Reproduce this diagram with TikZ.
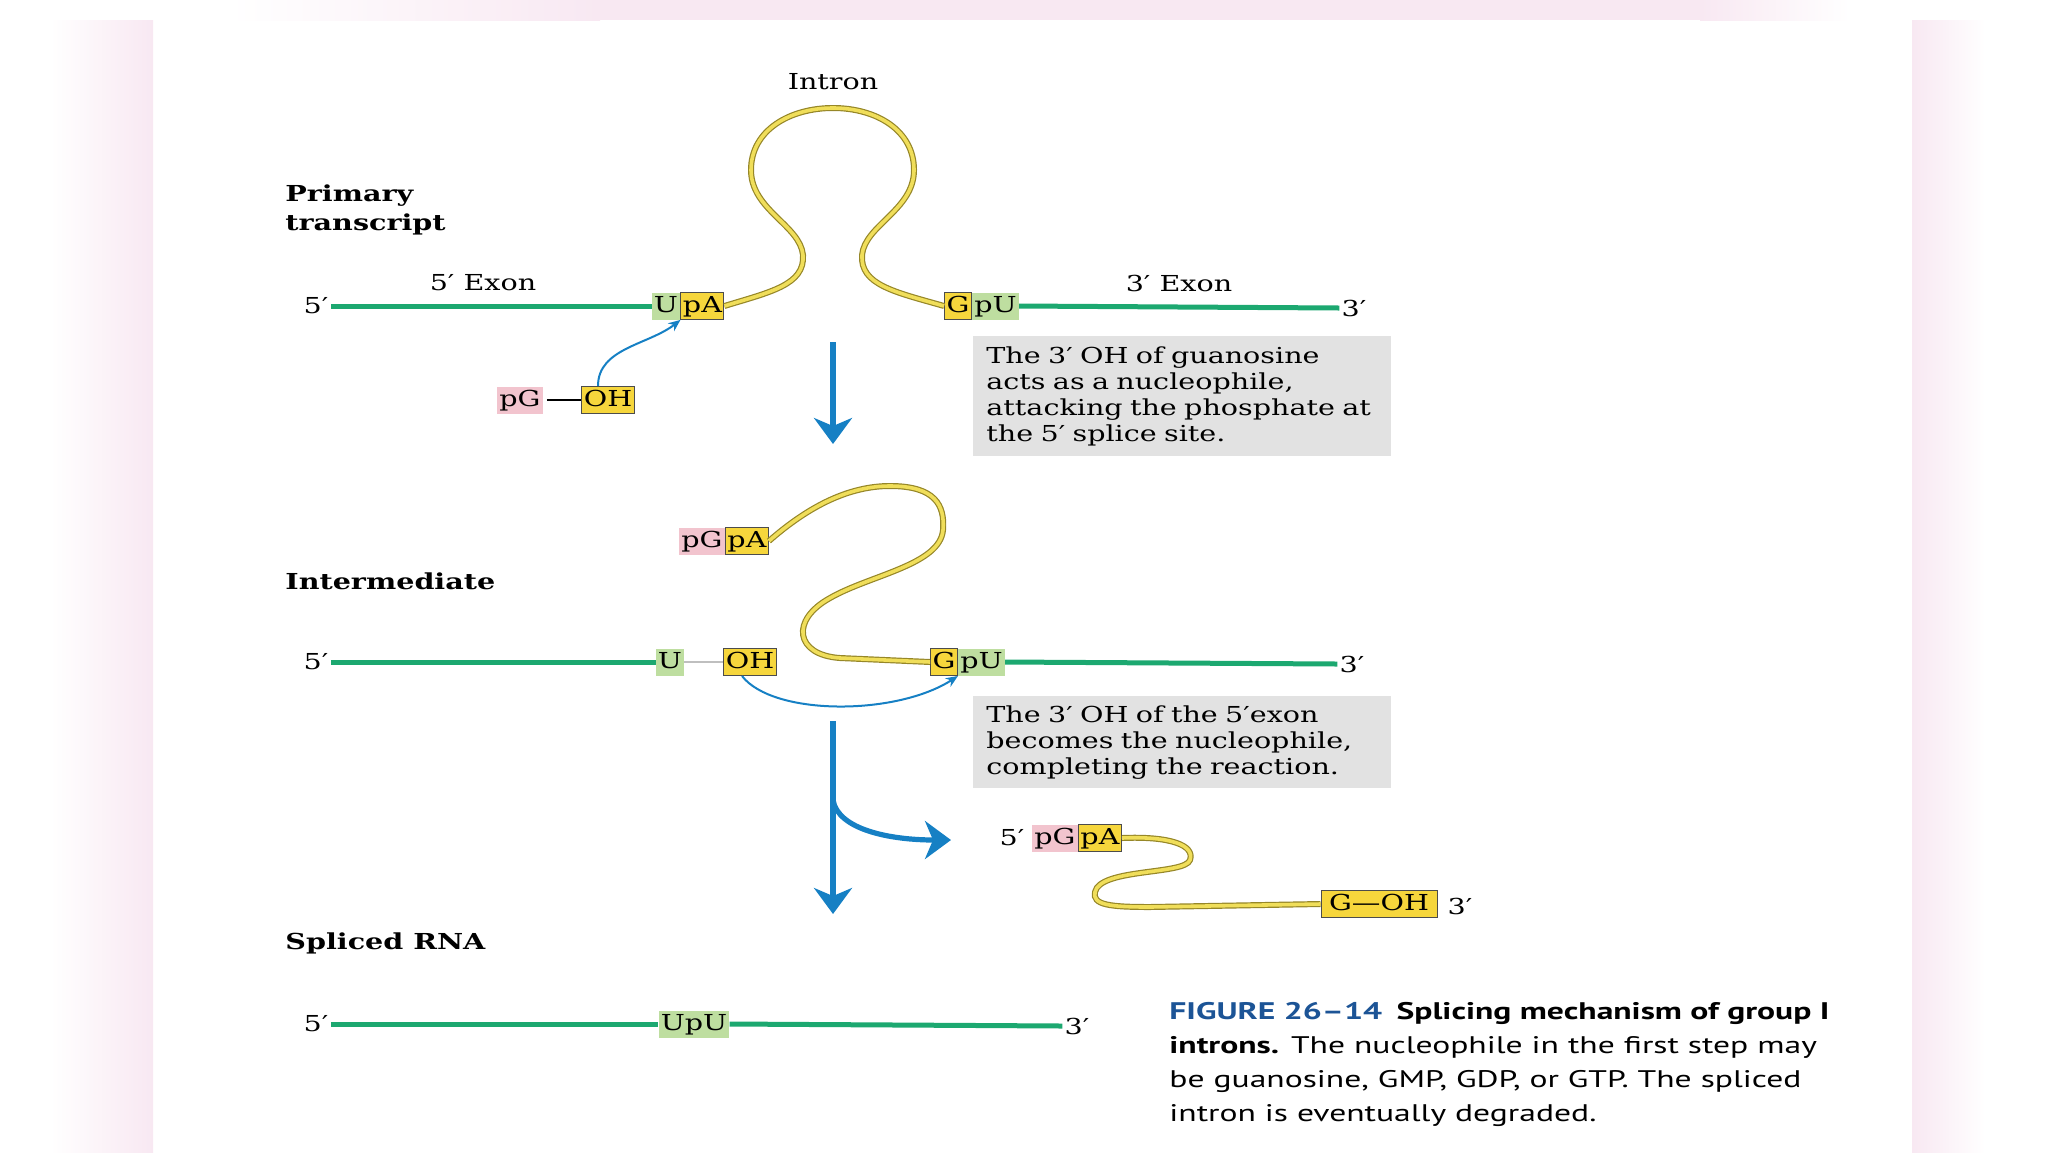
\documentclass[tikz,border=0pt]{standalone}
\usepackage{fontspec}
\setmainfont{DejaVu Serif}[FakeStretch=1.3]
\newfontfamily\capfont{PT Sans}[FakeStretch=1.4]
\usetikzlibrary{positioning,arrows.meta}

\definecolor{exongreen}{RGB}{28,168,112}
\definecolor{intronfill}{RGB}{240,222,90}
\definecolor{intronedge}{RGB}{150,135,40}
\definecolor{ntyellow}{RGB}{246,214,60}
\definecolor{ntgreen}{RGB}{190,222,160}
\definecolor{ntpink}{RGB}{242,196,206}
\definecolor{arrowblue}{RGB}{22,128,196}
\definecolor{notegray}{RGB}{226,226,226}
\definecolor{capblue}{RGB}{28,84,150}
\definecolor{bandpink}{RGB}{248,232,242}

\begin{document}
\begin{tikzpicture}[
            x=0.5pt,
            y=-0.5pt,
            font=\fontsize{11}{13}\selectfont,
            exon/.style={draw=exongreen, line width=2.5pt},
            intron/.style={draw=intronedge, line width=0.6pt, double=intronfill, double distance=1.8pt},
            nt/.style={inner xsep=1pt, inner ysep=1.25pt, text height=8.5pt, text depth=2.5pt},
            ntG/.style={nt, fill=ntgreen},
            ntY/.style={nt, fill=ntyellow, draw=black!70, line width=0.5pt},
            ntP/.style={nt, fill=ntpink},
            primelbl/.style={inner sep=1pt},
            steplbl/.style={font=\bfseries\fontsize{11}{14.5}\selectfont, align=left, anchor=west, inner sep=0pt},
            notebox/.style={fill=notegray, anchor=north west, align=left, text width=196pt, inner xsep=6.5pt, inner ysep=0pt},
            bigarrow/.style={draw=arrowblue, line width=2.6pt, -{Stealth[length=13pt,width=19pt,inset=4pt]}},
            attack/.style={draw=arrowblue, line width=1pt, -{Stealth[length=6pt,width=5pt]}},
            broken/.style={draw=black!25, line width=0.8pt}
        ]
        \useasboundingbox (0,0) rectangle (2048,1152);
        \shade[left color=white, right color=bandpink] (50,20) rectangle (153,1152);
        \shade[left color=bandpink, right color=white] (1912,20) rectangle (1985,1152);
        \shade[left color=white, right color=bandpink] (230,0) rectangle (600,20);
        \fill[bandpink] (600,0) rectangle (1700,20);
        \shade[left color=bandpink, right color=white] (1700,0) rectangle (1850,20);

        % primary transcript
        \node[steplbl] (lblPri) at (285,210) {Primary\\transcript};
        \node (intronlbl) at (833,82) {Intron};
        \node at (483,283) {5′ Exon};
        \node at (1179,283) {3′ Exon};
        \node[primelbl] (pri5) at (316,306) {5′};
        \node[ntG] (priU) at (666,306) {U};
        \node[ntY, right=0pt of priU] (priA) {pA};
        \node[ntY] (priG) at (958,306) {G};
        \node[ntG, right=0pt of priG] (priPU) {pU};
        \node[primelbl] (pri3) at (1354,308) {3′};
        \draw[exon] (pri5.east) -- (priU.west);
        \draw[exon] (priPU.east) -- (pri3.west);
        \draw[intron] (priA.east) .. controls (770,292) and (805,285) .. (803,255)
            .. controls (800,225) and (751,210) .. (751,170)
            .. controls (751,130) and (790,108) .. (833,108)
            .. controls (876,108) and (914,130) .. (914,170)
            .. controls (914,210) and (865,225) .. (862,255)
            .. controls (860,285) and (895,292) .. (priG.west);

        \node[ntP] (gua) at (520,400) {pG};
        \node[ntY] (guaOH) at (608,400) {OH};
        \draw[line width=0.8pt] ([xshift=2pt]gua.east) -- (guaOH.west);
        \draw[attack] ([xshift=-5pt]guaOH.north) .. controls +(0,-38) and +(-32,25) .. (priU.south east);

        \coordinate (down1a) at (833,342);
        \coordinate (down1b) at (833,444);
        \draw[bigarrow] (down1a) -- (down1b);
        \node[notebox, minimum height=60pt] (noteA) at (973,336)
            {The 3′ OH of guanosine\\acts as a nucleophile,\\attacking the phosphate at\\the 5′ splice site.};

        % intermediate
        \node[steplbl] (lblInt) at (285,581) {Intermediate};
        \node[ntP] (intPG) at (702,541) {pG};
        \node[ntY, right=0pt of intPG] (intPA) {pA};
        \node[primelbl] (int5) at (316,662) {5′};
        \node[ntG] (intU) at (670,662) {U};
        \node[ntY] (intOH) at (750,662) {OH};
        \node[ntY] (intG) at (944,662) {G};
        \node[ntG, right=0pt of intG] (intPU) {pU};
        \node[primelbl] (int3) at (1352,664) {3′};
        \draw[exon] (int5.east) -- (intU.west);
        \draw[broken] (intU.east) -- (intOH.west);
        \draw[exon] (intPU.east) -- (int3.west);
        \draw[intron] (intPA.east) .. controls (810,505) and (850,486) .. (890,486)
            .. controls (935,486) and (945,505) .. (943,530)
            .. controls (940,565) and (870,575) .. (830,598)
            .. controls (790,620) and (795,655) .. (840,658) -- (intG.west);
        \draw[attack] ([xshift=-4pt]intOH.south) .. controls +(31,40) and +(-62,40) .. (intG.south east);

        \node[notebox, minimum height=46pt] (noteB) at (973,696)
            {The 3′ OH of the 5′exon\\becomes the nucleophile,\\completing the reaction.};

        \coordinate (down2a) at (833,721);
        \coordinate (down2b) at (833,914);
        \coordinate (branch) at (833,800);
        \coordinate (branchEnd) at (951,840);
        \draw[bigarrow] (down2a) -- (down2b);
        \draw[bigarrow] (branch) .. controls +(5,30) and +(-60,0) .. (branchEnd);

        % excised intron
        \node[primelbl] (exc5) at (1012,838) {5′};
        \node[ntP] (excPG) at (1055,838) {pG};
        \node[ntY, right=0pt of excPG] (excPA) {pA};
        \node[ntY, minimum width=58pt] (excGOH) at (1379,904) {G—OH};
        \node[primelbl] (exc3) at (1460,906) {3′};
        \draw[intron] (excPA.east) .. controls (1170,836) and (1195,845) .. (1190,860)
            .. controls (1185,875) and (1100,868) .. (1095,892)
            .. controls (1092,905) and (1110,907) .. (1150,907) -- (excGOH.west);

        % spliced RNA
        \node[steplbl] (lblSpl) at (285,943) {Spliced RNA};
        \node[primelbl] (spl5) at (316,1024) {5′};
        \node[ntG] (splUpU) at (694,1024) {UpU};
        \node[primelbl] (spl3) at (1077,1026) {3′};
        \draw[exon] (spl5.east) -- (splUpU.west);
        \draw[exon] (splUpU.east) -- (spl3.west);

        \node[anchor=north west, align=left, inner sep=0pt, font=\capfont\fontsize{12}{17}\selectfont] (caption) at (1169,1002)
            {{\color{capblue}\bfseries FIGURE 26–14}\hspace{0.6em}{\bfseries Splicing mechanism of group I}\\
             {\bfseries introns.} The nucleophile in the first step may\\
             be guanosine, GMP, GDP, or GTP. The spliced\\
             intron is eventually degraded.};
    \end{tikzpicture}
\end{document}
